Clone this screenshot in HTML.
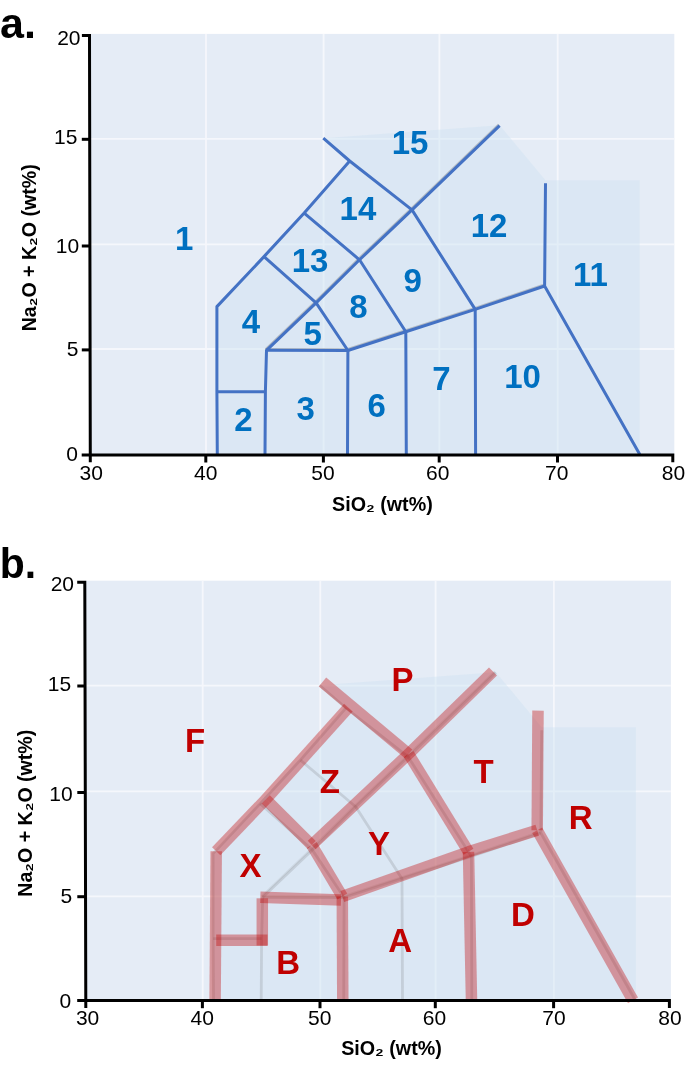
<!DOCTYPE html>
<html><head><meta charset="utf-8"><title>TAS diagram</title>
<style>
html,body{margin:0;padding:0;background:#fff}
svg{display:block}
text{font-family:"Liberation Sans",sans-serif}
.tl{font-size:21px;fill:#000}
.na{font-size:33px;font-weight:bold;fill:#0070c0}
.nb{font-size:33px;font-weight:bold;fill:#c00000}
.at{font-size:20px;font-weight:bold;fill:#000}
.pl{font-size:43px;font-weight:bold;fill:#000}
</style></head><body>
<svg width="685" height="1092" viewBox="0 0 685 1092">
<rect width="685" height="1092" fill="#fff"/>
<g id="pa"><rect x="90.0" y="33.9" width="584.3" height="421.0" fill="#e5ecf6"/>
<line x1="206.0" y1="33.9" x2="206.0" y2="454.9" stroke="#f5f7fc" stroke-width="1.8"/>
<line x1="323.6" y1="33.9" x2="323.6" y2="454.9" stroke="#f5f7fc" stroke-width="1.8"/>
<line x1="439.4" y1="33.9" x2="439.4" y2="454.9" stroke="#f5f7fc" stroke-width="1.8"/>
<line x1="557.7" y1="33.9" x2="557.7" y2="454.9" stroke="#f5f7fc" stroke-width="1.8"/>
<line x1="90.0" y1="349.0" x2="674.3" y2="349.0" stroke="#f5f7fc" stroke-width="1.8"/>
<line x1="90.0" y1="244.3" x2="674.3" y2="244.3" stroke="#f5f7fc" stroke-width="1.8"/>
<line x1="90.0" y1="138.9" x2="674.3" y2="138.9" stroke="#f5f7fc" stroke-width="1.8"/>
<polygon points="217.3,454.5 216.9,306.6 349.7,161.0 323.3,138.2 499.6,125.2 545.4,180.2 639.6,180.2 639.6,454.5" fill="#cfe3f2" fill-opacity="0.45"/>
<polyline points="265.6,349.2 315.2,301.8 358.6,258.7 411.1,208.8 498.7,124.5" stroke="#777" stroke-opacity="0.4" stroke-width="2.2" fill="none" stroke-linejoin="round"/>
<polyline points="265.6,349.2 347.0,349.4 404.9,330.6 474.3,308.3 543.7,284.9" stroke="#777" stroke-opacity="0.4" stroke-width="2.2" fill="none" stroke-linejoin="round"/>
<polyline points="217.3,454.5 216.9,391.7 216.9,306.6 264.0,256.6 304.2,213.1 349.7,161.0" stroke="#4472c4" stroke-width="3" fill="none" stroke-linejoin="round"/>
<polyline points="323.3,138.2 349.7,161.0 412.0,209.9 475.2,309.4 475.6,454.5" stroke="#4472c4" stroke-width="3" fill="none" stroke-linejoin="round"/>
<polyline points="265.0,454.5 265.4,391.7 266.5,350.3 316.1,302.9 359.5,259.8 412.0,209.9 499.6,125.6" stroke="#4472c4" stroke-width="3" fill="none" stroke-linejoin="round"/>
<polyline points="216.9,391.7 265.4,391.7" stroke="#4472c4" stroke-width="3" fill="none" stroke-linejoin="round"/>
<polyline points="266.5,350.3 347.9,350.5 405.8,331.7 475.2,309.4 544.6,286.0" stroke="#4472c4" stroke-width="3" fill="none" stroke-linejoin="round"/>
<polyline points="347.5,454.5 347.9,350.5 316.1,302.9 264.0,256.6" stroke="#4472c4" stroke-width="3" fill="none" stroke-linejoin="round"/>
<polyline points="406.3,454.5 405.8,331.7 359.5,259.8 304.2,213.1" stroke="#4472c4" stroke-width="3" fill="none" stroke-linejoin="round"/>
<polyline points="545.5,183.3 544.6,286.0 639.8,454.5" stroke="#4472c4" stroke-width="3" fill="none" stroke-linejoin="round"/>
<path d="M81.9,35.4 H89.5 L90.3,462.3 M81.7,454.9 H672.8 V462.3" stroke="#000" stroke-width="3" fill="none"/>
<line x1="205.8" y1="454.9" x2="205.8" y2="462.5" stroke="#000" stroke-width="3"/>
<line x1="323.4" y1="454.9" x2="323.4" y2="462.5" stroke="#000" stroke-width="3"/>
<line x1="439.2" y1="454.9" x2="439.2" y2="462.5" stroke="#000" stroke-width="3"/>
<line x1="557.5" y1="454.9" x2="557.5" y2="462.5" stroke="#000" stroke-width="3"/>
<line x1="81.8" y1="349.9" x2="90.0" y2="349.9" stroke="#000" stroke-width="3"/>
<line x1="81.8" y1="246.0" x2="90.0" y2="246.0" stroke="#000" stroke-width="3"/>
<line x1="81.8" y1="139.3" x2="90.0" y2="139.3" stroke="#000" stroke-width="3"/>
<text x="91.2" y="479.9" text-anchor="middle" class="tl">30</text>
<text x="205.8" y="479.9" text-anchor="middle" class="tl">40</text>
<text x="323.0" y="479.9" text-anchor="middle" class="tl">50</text>
<text x="437.8" y="479.9" text-anchor="middle" class="tl">60</text>
<text x="556.8" y="479.9" text-anchor="middle" class="tl">70</text>
<text x="673.4" y="479.9" text-anchor="middle" class="tl">80</text>
<text x="77.9" y="461.1" text-anchor="end" class="tl">0</text>
<text x="78.5" y="356.3" text-anchor="end" class="tl">5</text>
<text x="79.2" y="253.3" text-anchor="end" class="tl">10</text>
<text x="77.4" y="143.7" text-anchor="end" class="tl">15</text>
<text x="80.5" y="44.6" text-anchor="end" class="tl">20</text>
<text x="184.3" y="249.7" text-anchor="middle" class="na">1</text>
<text x="243.4" y="431.0" text-anchor="middle" class="na">2</text>
<text x="305.7" y="419.6" text-anchor="middle" class="na">3</text>
<text x="250.9" y="333.0" text-anchor="middle" class="na">4</text>
<text x="312.7" y="345.4" text-anchor="middle" class="na">5</text>
<text x="376.8" y="417.2" text-anchor="middle" class="na">6</text>
<text x="441.5" y="389.5" text-anchor="middle" class="na">7</text>
<text x="358.4" y="318.2" text-anchor="middle" class="na">8</text>
<text x="412.6" y="291.9" text-anchor="middle" class="na">9</text>
<text x="522.6" y="387.8" text-anchor="middle" class="na">10</text>
<text x="590.4" y="286.4" text-anchor="middle" class="na">11</text>
<text x="489.1" y="237.4" text-anchor="middle" class="na">12</text>
<text x="310.0" y="272.3" text-anchor="middle" class="na">13</text>
<text x="357.9" y="220.3" text-anchor="middle" class="na">14</text>
<text x="410.0" y="154.0" text-anchor="middle" class="na">15</text>
<text x="382.4" y="511.0" text-anchor="middle" class="at" textLength="100.7" lengthAdjust="spacingAndGlyphs">SiO₂ (wt%)</text>
<text transform="translate(35.8,247.8) rotate(-90)" text-anchor="middle" class="at" textLength="167" lengthAdjust="spacingAndGlyphs">Na₂O + K₂O (wt%)</text>
<text x="0" y="37.5" class="pl">a.</text>
</g>
<g id="pb"><rect x="85.5" y="580.7" width="585.4" height="419.9" fill="#e5ecf6"/>
<line x1="202.7" y1="580.7" x2="202.7" y2="1000.6" stroke="#f5f7fc" stroke-width="1.8"/>
<line x1="320.3" y1="580.7" x2="320.3" y2="1000.6" stroke="#f5f7fc" stroke-width="1.8"/>
<line x1="435.6" y1="580.7" x2="435.6" y2="1000.6" stroke="#f5f7fc" stroke-width="1.8"/>
<line x1="553.9" y1="580.7" x2="553.9" y2="1000.6" stroke="#f5f7fc" stroke-width="1.8"/>
<line x1="85.5" y1="896.3" x2="670.9" y2="896.3" stroke="#f5f7fc" stroke-width="1.8"/>
<line x1="85.5" y1="791.4" x2="670.9" y2="791.4" stroke="#f5f7fc" stroke-width="1.8"/>
<line x1="85.5" y1="685.6" x2="670.9" y2="685.6" stroke="#f5f7fc" stroke-width="1.8"/>
<polygon points="213.5,1001.5 213.1,853.6 345.9,708.0 319.5,685.2 495.8,672.2 541.6,727.2 635.8,727.2 635.8,1001.5" fill="#cfe3f2" fill-opacity="0.45"/>
<polyline points="261.8,896.2 311.4,848.8 354.8,805.7 407.3,755.8 494.9,671.5" stroke="#777" stroke-opacity="0.12" stroke-width="2.2" fill="none" stroke-linejoin="round"/>
<polyline points="261.8,896.2 343.2,896.4 401.1,877.6 470.5,855.3 539.9,831.9" stroke="#777" stroke-opacity="0.12" stroke-width="2.2" fill="none" stroke-linejoin="round"/>
<polyline points="213.5,1001.5 213.1,938.7 213.1,853.6 260.2,803.6 300.4,760.1 345.9,708.0" stroke="#646464" stroke-opacity="0.19" stroke-width="2.8" fill="none" stroke-linejoin="round"/>
<polyline points="319.5,685.2 345.9,708.0 408.2,756.9 471.4,856.4 471.8,1001.5" stroke="#646464" stroke-opacity="0.19" stroke-width="2.8" fill="none" stroke-linejoin="round"/>
<polyline points="261.2,1001.5 261.6,938.7 262.7,897.3 312.3,849.9 355.7,806.8 408.2,756.9 495.8,672.6" stroke="#646464" stroke-opacity="0.19" stroke-width="2.8" fill="none" stroke-linejoin="round"/>
<polyline points="213.1,938.7 261.6,938.7" stroke="#646464" stroke-opacity="0.19" stroke-width="2.8" fill="none" stroke-linejoin="round"/>
<polyline points="262.7,897.3 344.1,897.5 402.0,878.7 471.4,856.4 540.8,833.0" stroke="#646464" stroke-opacity="0.19" stroke-width="2.8" fill="none" stroke-linejoin="round"/>
<polyline points="343.7,1001.5 344.1,897.5 312.3,849.9 260.2,803.6" stroke="#646464" stroke-opacity="0.19" stroke-width="2.8" fill="none" stroke-linejoin="round"/>
<polyline points="402.5,1001.5 402.0,878.7 355.7,806.8 300.4,760.1" stroke="#646464" stroke-opacity="0.19" stroke-width="2.8" fill="none" stroke-linejoin="round"/>
<polyline points="541.7,730.3 540.8,833.0 636.0,1001.5" stroke="#646464" stroke-opacity="0.19" stroke-width="2.8" fill="none" stroke-linejoin="round"/>
<line x1="215.1" y1="1000.4" x2="216.2" y2="851.3" stroke="#c00000" stroke-opacity="0.36" stroke-width="11.5"/>
<line x1="216.2" y1="851.3" x2="265.8" y2="799.4" stroke="#c00000" stroke-opacity="0.36" stroke-width="11.5"/>
<line x1="265.8" y1="799.4" x2="348.4" y2="707.7" stroke="#c00000" stroke-opacity="0.36" stroke-width="11.5"/>
<line x1="216.2" y1="940.2" x2="267.5" y2="940.2" stroke="#c00000" stroke-opacity="0.36" stroke-width="11.5"/>
<line x1="262.3" y1="945.5" x2="262.3" y2="898.3" stroke="#c00000" stroke-opacity="0.36" stroke-width="11.5"/>
<line x1="260.3" y1="897.2" x2="341.0" y2="900.0" stroke="#c00000" stroke-opacity="0.36" stroke-width="11.5"/>
<line x1="342.8" y1="1000.4" x2="342.3" y2="896.5" stroke="#c00000" stroke-opacity="0.36" stroke-width="11.5"/>
<line x1="342.3" y1="896.5" x2="311.7" y2="845.0" stroke="#c00000" stroke-opacity="0.36" stroke-width="11.5"/>
<line x1="311.7" y1="845.0" x2="265.8" y2="799.4" stroke="#c00000" stroke-opacity="0.36" stroke-width="11.5"/>
<line x1="322.5" y1="682.0" x2="408.6" y2="753.9" stroke="#c00000" stroke-opacity="0.36" stroke-width="11.5"/>
<line x1="408.6" y1="753.9" x2="468.5" y2="851.8" stroke="#c00000" stroke-opacity="0.36" stroke-width="11.5"/>
<line x1="468.5" y1="851.8" x2="471.5" y2="1000.4" stroke="#c00000" stroke-opacity="0.36" stroke-width="11.5"/>
<line x1="311.7" y1="845.0" x2="408.6" y2="753.9" stroke="#c00000" stroke-opacity="0.36" stroke-width="11.5"/>
<line x1="408.6" y1="753.9" x2="493.0" y2="671.5" stroke="#c00000" stroke-opacity="0.36" stroke-width="11.5"/>
<line x1="342.3" y1="896.5" x2="468.5" y2="851.8" stroke="#c00000" stroke-opacity="0.36" stroke-width="11.5"/>
<line x1="468.5" y1="851.8" x2="537.2" y2="830.2" stroke="#c00000" stroke-opacity="0.36" stroke-width="11.5"/>
<line x1="538.0" y1="710.6" x2="537.2" y2="830.2" stroke="#c00000" stroke-opacity="0.36" stroke-width="11.5"/>
<line x1="537.2" y1="830.2" x2="633.0" y2="1000.4" stroke="#c00000" stroke-opacity="0.36" stroke-width="11.5"/>
<path d="M77.2,582.2 H84.8 L85.8,1008.0 M77.2,1000.6 H669.4 V1008.0" stroke="#000" stroke-width="3" fill="none"/>
<line x1="202.4" y1="1000.6" x2="202.4" y2="1008.2" stroke="#000" stroke-width="3"/>
<line x1="320.0" y1="1000.6" x2="320.0" y2="1008.2" stroke="#000" stroke-width="3"/>
<line x1="435.3" y1="1000.6" x2="435.3" y2="1008.2" stroke="#000" stroke-width="3"/>
<line x1="553.6" y1="1000.6" x2="553.6" y2="1008.2" stroke="#000" stroke-width="3"/>
<line x1="77.3" y1="896.7" x2="85.5" y2="896.7" stroke="#000" stroke-width="3"/>
<line x1="77.3" y1="792.5" x2="85.5" y2="792.5" stroke="#000" stroke-width="3"/>
<line x1="77.3" y1="686.0" x2="85.5" y2="686.0" stroke="#000" stroke-width="3"/>
<text x="87.6" y="1025.2" text-anchor="middle" class="tl">30</text>
<text x="202.3" y="1025.2" text-anchor="middle" class="tl">40</text>
<text x="319.8" y="1025.2" text-anchor="middle" class="tl">50</text>
<text x="434.5" y="1025.2" text-anchor="middle" class="tl">60</text>
<text x="554.0" y="1025.2" text-anchor="middle" class="tl">70</text>
<text x="670.0" y="1025.2" text-anchor="middle" class="tl">80</text>
<text x="71.1" y="1007.8" text-anchor="end" class="tl">0</text>
<text x="72.2" y="902.8" text-anchor="end" class="tl">5</text>
<text x="72.6" y="800.9" text-anchor="end" class="tl">10</text>
<text x="71.1" y="691.1" text-anchor="end" class="tl">15</text>
<text x="74.0" y="590.9" text-anchor="end" class="tl">20</text>
<text x="195.1" y="752.1" text-anchor="middle" class="nb">F</text>
<text x="402.6" y="691.1" text-anchor="middle" class="nb">P</text>
<text x="329.9" y="792.7" text-anchor="middle" class="nb">Z</text>
<text x="483.5" y="783.2" text-anchor="middle" class="nb">T</text>
<text x="250.6" y="877.1" text-anchor="middle" class="nb">X</text>
<text x="378.9" y="855.1" text-anchor="middle" class="nb">Y</text>
<text x="580.7" y="829.1" text-anchor="middle" class="nb">R</text>
<text x="288.1" y="974.3" text-anchor="middle" class="nb">B</text>
<text x="400.1" y="951.6" text-anchor="middle" class="nb">A</text>
<text x="523.0" y="925.5" text-anchor="middle" class="nb">D</text>
<text x="391.5" y="1055.3" text-anchor="middle" class="at" textLength="100.7" lengthAdjust="spacingAndGlyphs">SiO₂ (wt%)</text>
<text transform="translate(32.2,813.2) rotate(-90)" text-anchor="middle" class="at" textLength="167" lengthAdjust="spacingAndGlyphs">Na₂O + K₂O (wt%)</text>
<text x="-0.2" y="578.3" class="pl" textLength="36.4" lengthAdjust="spacingAndGlyphs">b.</text>
</g>
</svg></body></html>
